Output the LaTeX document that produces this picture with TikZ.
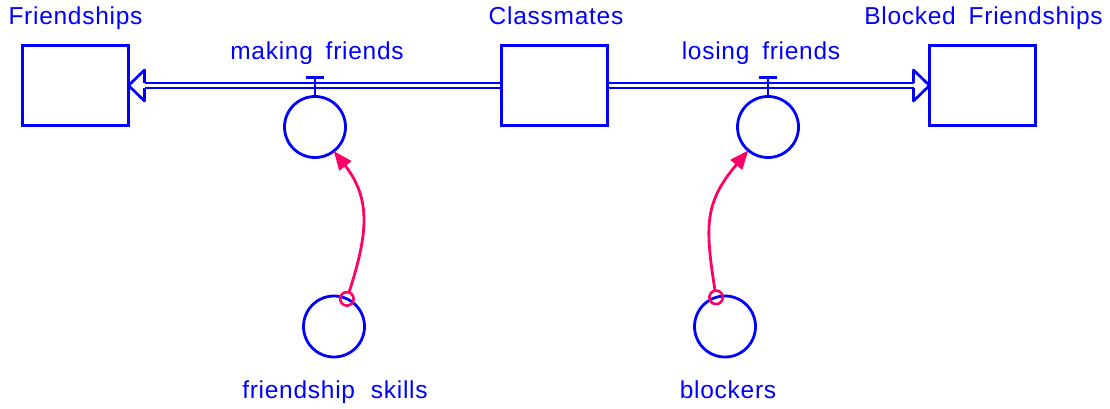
\documentclass[tikz,border=0pt]{standalone}
\usepackage{fontspec}
\newfontfamily\sdfont{Liberation Sans}[LetterSpace=3,WordSpace=1.7]
\usetikzlibrary{arrows.meta}
\definecolor{sdblue}{RGB}{0,0,255}
\definecolor{sdpink}{RGB}{255,0,102}
\tikzset{
  stock/.style={draw=sdblue, line width=3.2pt, minimum width=106pt,
    minimum height=80pt, inner sep=0pt, outer sep=0pt},
  conv/.style={circle, draw=sdblue, line width=2.8pt, minimum size=61pt,
    inner sep=0pt, outer sep=0pt},
  pipeline/.style={draw=sdblue, line width=2.5pt},
  sdlabel/.style={text=sdblue, font=\sdfont\fontsize{24.5}{29}\selectfont,
    anchor=base, inner sep=0pt},
  link/.style={draw=sdpink, line width=2.8pt,
    -{Triangle[length=19pt,width=15pt]}},
  linkstart/.style={circle, draw=sdpink, line width=2.6pt,
    minimum size=13.5pt, inner sep=0pt, outer sep=0pt},
}
\begin{document}
\begin{tikzpicture}[x=1pt,y=-1pt]
\useasboundingbox (0,0) rectangle (1110,409);

% stocks
\node[stock] (friendships) at (75.5,85.5) {};
\node[stock] (classmates) at (554.5,85.5) {};
\node[stock] (blocked) at (982.5,85.5) {};
\node[sdlabel] (tfriendships) at (75.5,25) {Friendships};
\node[sdlabel] (tclassmates) at (556,25) {Classmates};
\node[sdlabel] (tblocked) at (983.5,25) {Blocked Friendships};

% flow pipes (double lines)
\foreach \s in {2.6pt,-2.6pt}{
  \draw[pipeline] ([yshift=\s]classmates.west) -- ([xshift=16pt,yshift=\s]friendships.east);
  \draw[pipeline] ([yshift=\s]classmates.east) -- ([xshift=-16pt,yshift=\s]blocked.west);
}
% open arrowheads of the pipes
\draw[pipeline, line width=2.7pt, line join=round]
  ([xshift=16pt,yshift=2.6pt]friendships.east) -- ([xshift=16pt,yshift=15.5pt]friendships.east)
  -- (friendships.east) -- ([xshift=16pt,yshift=-15.5pt]friendships.east)
  -- ([xshift=16pt,yshift=-2.6pt]friendships.east);
\draw[pipeline, line width=2.7pt, line join=round]
  ([xshift=-16pt,yshift=2.6pt]blocked.west) -- ([xshift=-16pt,yshift=15.5pt]blocked.west)
  -- (blocked.west) -- ([xshift=-16pt,yshift=-15.5pt]blocked.west)
  -- ([xshift=-16pt,yshift=-2.6pt]blocked.west);

% flow valves
\node[conv] (making) at (315,127) {};
\node[conv] (losing) at (768,127) {};
\draw[pipeline, line width=2.3pt] (making.north) -- ++(0,-19) coordinate (maketop);
\draw[pipeline, line width=2.3pt] ([xshift=-9pt]maketop) -- ([xshift=9pt]maketop);
\draw[pipeline, line width=2.3pt] (losing.north) -- ++(0,-19) coordinate (losetop);
\draw[pipeline, line width=2.3pt] ([xshift=-9pt]losetop) -- ([xshift=9pt]losetop);
\node[sdlabel] (tmaking) at (317,60) {making friends};
\node[sdlabel] (tlosing) at (761,60) {losing friends};

% converters
\node[conv] (skills) at (334,326.5) {};
\node[conv] (blockers) at (725,326.5) {};
\node[sdlabel] (tskills) at (335,398) {friendship\hspace{3pt} skills};
\node[sdlabel] (tblockers) at (728,398) {blockers};

% information links
\node[linkstart] (skillsout) at (skills.65) {};
\node[linkstart] (blockersout) at (blockers.107) {};
\draw[link] (skillsout) to[out=72, in=-52, looseness=1.1] (making);
\draw[link] (blockersout) to[out=99, in=-130, looseness=1.2] (losing);
\end{tikzpicture}
\end{document}
